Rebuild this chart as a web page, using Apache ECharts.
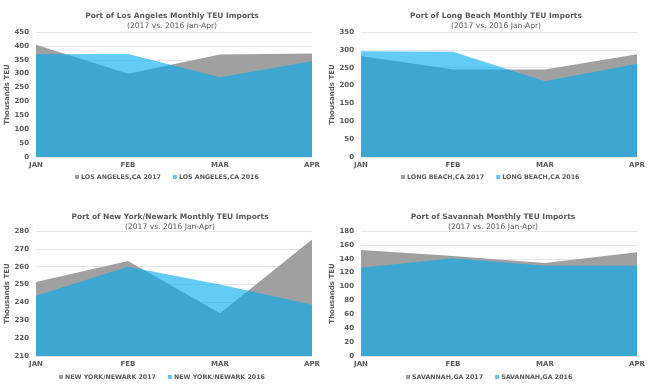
<!DOCTYPE html>
<html><head><meta charset="utf-8">
<script src="https://cdn.jsdelivr.net/npm/echarts@6/dist/echarts.min.js"></script>
<style>html,body{margin:0;padding:0;background:#fff}#c{width:650px;height:391px}</style>
</head><body><div id="c"></div>
<script>
var months = ['JAN','FEB','MAR','APR'];
var titles = ['Port of Los Angeles Monthly TEU Imports','Port of Long Beach Monthly TEU Imports','Port of New York/Newark Monthly TEU Imports','Port of Savannah Monthly TEU Imports'];
var subtitle = '(2017 vs. 2016 Jan-Apr)';
var names2017 = ['LOS ANGELES,CA 2017','LONG BEACH,CA 2017','NEW YORK/NEWARK 2017','SAVANNAH,GA 2017'];
var names2016 = ['LOS ANGELES,CA 2016','LONG BEACH,CA 2016','NEW YORK/NEWARK 2016','SAVANNAH,GA 2016'];
var la2017 = [404, 300, 369, 373];
var la2016 = [370, 371, 287, 345];
var lb2017 = [283, 245, 245, 288];
var lb2016 = [296, 295, 212, 261];
var ny2017 = [251.4, 263.2, 233.9, 275.3];
var ny2016 = [243.8, 260, 250.1, 238.7];
var sv2017 = [152.6, 144, 133.9, 149.3];
var sv2016 = [127.2, 140.6, 130, 130];
var yMins = [0, 0, 210, 0];
var yMaxs = [450, 350, 280, 180];
var yIntervals = [50, 50, 10, 20];

var data2017 = [la2017, lb2017, ny2017, sv2017];
var data2016 = [la2016, lb2016, ny2016, sv2016];

var grids = [
  {left:36, top:32, width:276, height:125},
  {left:361, top:32, width:276, height:125},
  {left:36, top:231, width:276, height:125},
  {left:361, top:231, width:276, height:125}
];
var titlePos = [[172,12],[496,12],[170,213],[493,213]];
var legendPos = [[75,174],[401,174],[59,374],[406,374]];
var txt = '#595959';
var font = 'DejaVu Sans';

var option = {
  animation:false,
  textStyle:{fontFamily:font},
  title:[], legend:[], grid:grids, xAxis:[], yAxis:[], series:[]
};
for (var i=0;i<4;i++){
  option.title.push({
    text:titles[i], subtext:subtitle,
    left:titlePos[i][0], top:titlePos[i][1], textAlign:'center', itemGap:2.5, padding:0,
    textStyle:{fontFamily:font, fontSize:7.5, fontWeight:'bold', color:txt},
    subtextStyle:{fontFamily:font, fontSize:7.6, color:txt}
  });
  option.legend.push({
    data:[names2017[i], names2016[i]],
    left:legendPos[i][0], top:legendPos[i][1], width:300, orient:'horizontal',
    icon:'rect', itemWidth:4, itemHeight:4, itemGap:12, padding:0,
    textStyle:{fontFamily:font, fontSize:6.3, fontWeight:'bold', color:txt, padding:[0,0,0,-3]}
  });
  option.xAxis.push({
    type:'category', gridIndex:i, data:months, boundaryGap:false,
    axisLine:{show:false}, axisTick:{show:false},
    axisLabel:{fontFamily:font, fontSize:7, fontWeight:'bold', color:txt, margin:5}
  });
  option.yAxis.push({
    type:'value', gridIndex:i, min:yMins[i], max:yMaxs[i], interval:yIntervals[i],
    name:'Thousands TEU', nameLocation:'middle', nameGap:20, nameRotate:90,
    nameTextStyle:{fontFamily:font, fontSize:7, fontWeight:'bold', color:txt},
    axisLine:{show:false}, axisTick:{show:false},
    axisLabel:{fontFamily:font, fontSize:7, fontWeight:'bold', color:txt, margin:7},
    splitLine:{lineStyle:{color:'#e6e6e6', width:1}}
  });
  option.series.push({
    name:names2017[i], type:'line', xAxisIndex:i, yAxisIndex:i, data:data2017[i],
    symbol:'none', lineStyle:{width:0}, itemStyle:{color:'#a0a0a0'},
    areaStyle:{color:'#a0a0a0', opacity:1, origin:'start'}
  });
  option.series.push({
    name:names2016[i], type:'line', xAxisIndex:i, yAxisIndex:i, data:data2016[i],
    symbol:'none', lineStyle:{width:0}, itemStyle:{color:'#62c6f6'},
    areaStyle:{color:'rgba(0,172,240,0.61)', opacity:1, origin:'start'}
  });
}
var chart = echarts.init(document.getElementById('c'), null, {renderer:'canvas'});
chart.setOption(option);
</script></body></html>
